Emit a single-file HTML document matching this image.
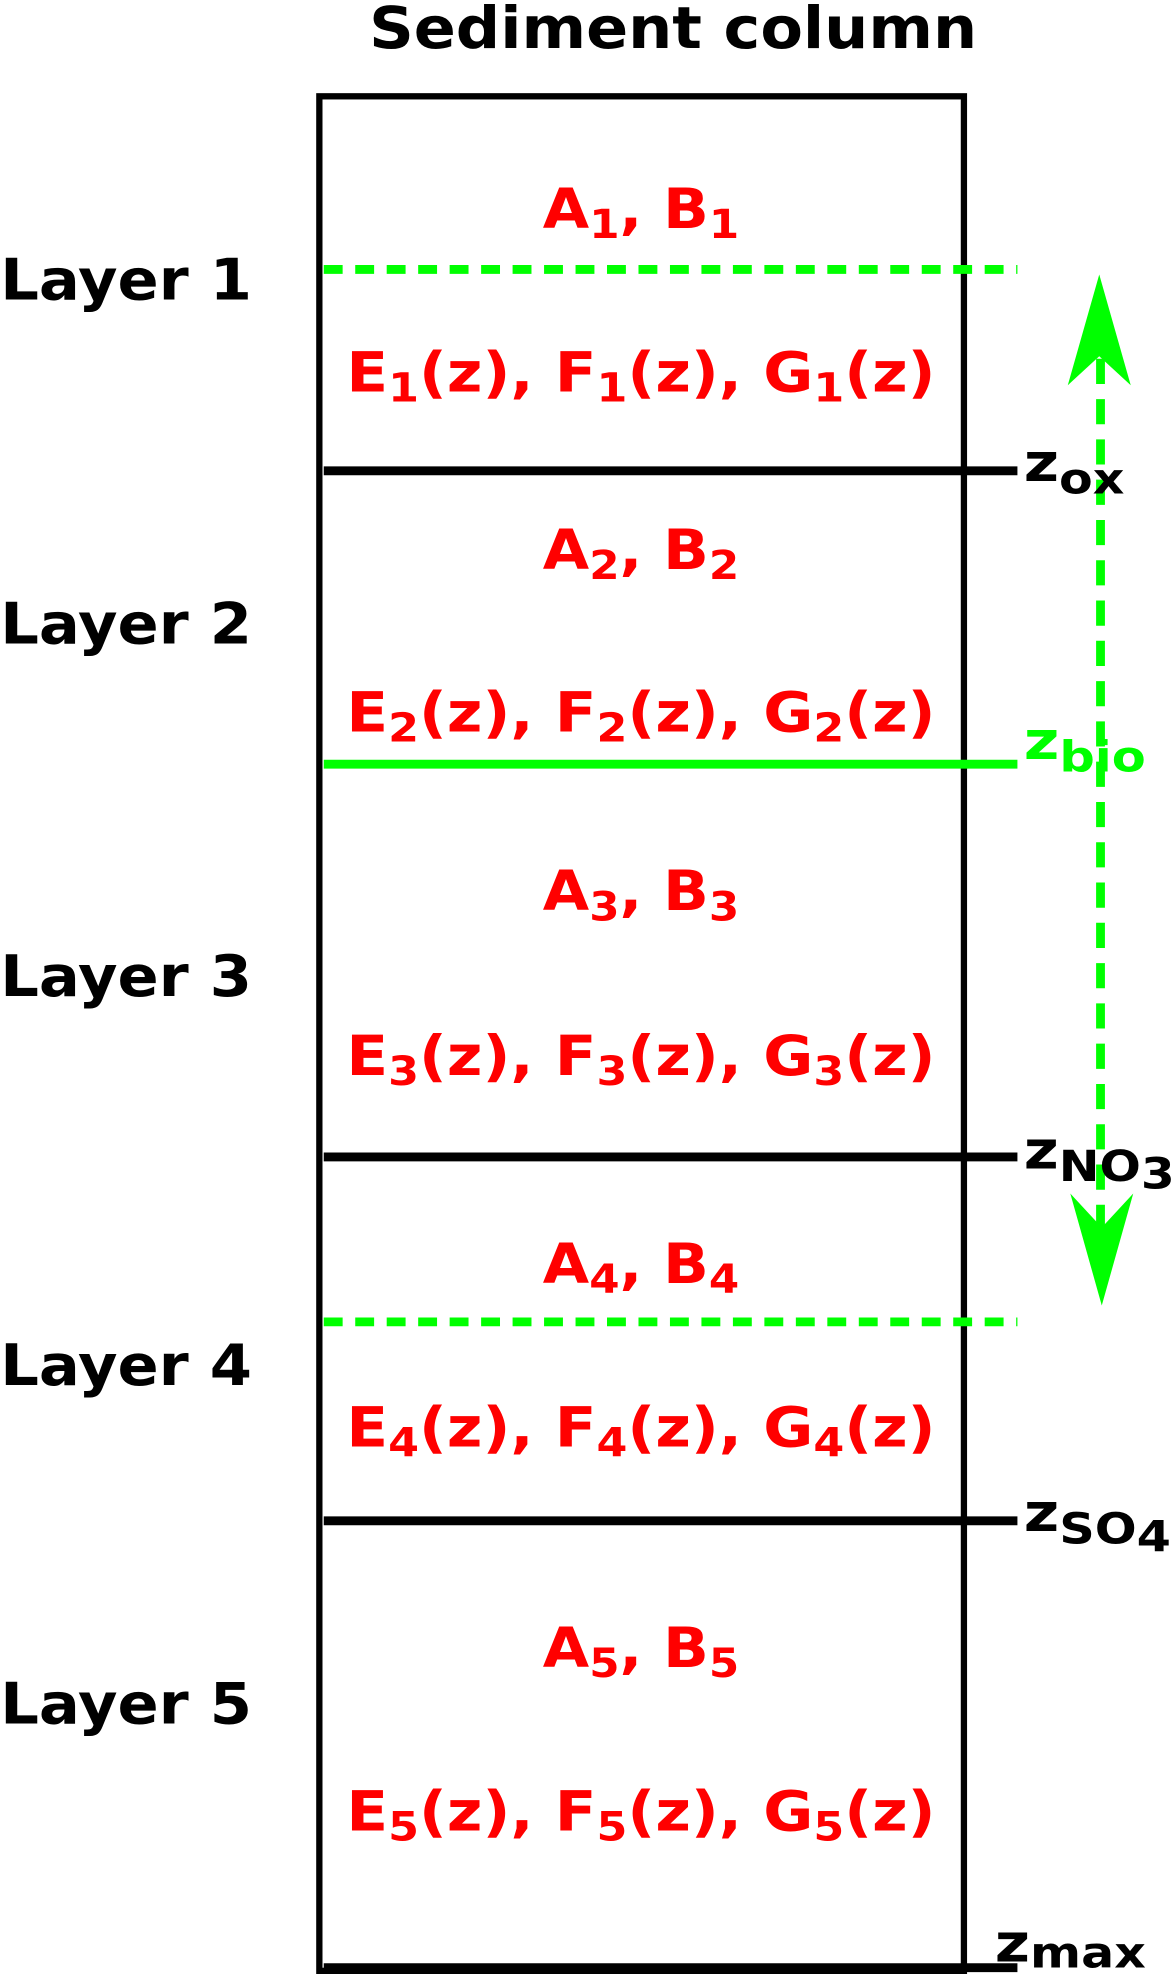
<!DOCTYPE html>
<html><head><meta charset="utf-8"><style>html,body{margin:0;padding:0;background:#fff}svg{display:block}</style></head>
<body>
<svg width="1175" height="1974" viewBox="0 0 933 1568" xmlns="http://www.w3.org/2000/svg" font-family="DejaVu Sans, Liberation Sans, sans-serif" font-weight="bold">
<text x="293" y="38" font-size="46" textLength="483" lengthAdjust="spacingAndGlyphs">Sediment column</text>
<rect x="253.5" y="76.5" width="512" height="1489" fill="none" stroke="#000" stroke-width="5"/>
<g stroke-width="7">
<line x1="257" y1="214" x2="808" y2="214" stroke="#00ff00" stroke-dasharray="15 10"/>
<line x1="257" y1="374" x2="808" y2="374" stroke="#000"/>
<line x1="257" y1="607" x2="808" y2="607" stroke="#00ff00"/>
<line x1="257" y1="919" x2="808" y2="919" stroke="#000"/>
<line x1="257" y1="1050" x2="808" y2="1050" stroke="#00ff00" stroke-dasharray="15 10"/>
<line x1="257" y1="1208" x2="808" y2="1208" stroke="#000"/>
<line x1="257" y1="1563" x2="808" y2="1563" stroke="#000"/>
<line x1="874" y1="285" x2="874" y2="975" stroke="#00ff00" stroke-dasharray="20 12"/>
</g>
<polygon points="873,218 898,306 873,283 848,306" fill="#00ff00"/>
<polygon points="875,1037 900,948 875,975 850,948" fill="#00ff00"/>
<g font-size="42">
<text x="813" y="382" textLength="80" lengthAdjust="spacingAndGlyphs">z<tspan font-size="34" dy="10">ox</tspan></text>
<text x="813" y="603" fill="#00ff00" textLength="97" lengthAdjust="spacingAndGlyphs">z<tspan font-size="34" dy="10">bio</tspan></text>
<text x="813" y="928" textLength="120" lengthAdjust="spacingAndGlyphs">z<tspan font-size="34" dy="10">NO</tspan><tspan font-size="34" dy="6">3</tspan></text>
<text x="813" y="1216" textLength="117" lengthAdjust="spacingAndGlyphs">z<tspan font-size="34" dy="10">SO</tspan><tspan font-size="34" dy="6">4</tspan></text>
<text x="790" y="1558" textLength="120" lengthAdjust="spacingAndGlyphs">z<tspan font-size="34" dy="5">max</tspan></text>
</g>
<g font-size="45">
<text x="0" y="238" textLength="200" lengthAdjust="spacingAndGlyphs">Layer 1</text>
<text x="0" y="511" textLength="200" lengthAdjust="spacingAndGlyphs">Layer 2</text>
<text x="0" y="791" textLength="200" lengthAdjust="spacingAndGlyphs">Layer 3</text>
<text x="0" y="1100" textLength="200" lengthAdjust="spacingAndGlyphs">Layer 4</text>
<text x="0" y="1369" textLength="200" lengthAdjust="spacingAndGlyphs">Layer 5</text>
</g>
<g font-size="44" fill="#ff0000">
<text x="431" y="181" textLength="156" lengthAdjust="spacingAndGlyphs">A<tspan font-size="32" dy="8">1</tspan><tspan dy="-8">, B</tspan><tspan font-size="32" dy="8">1</tspan></text>
<text x="275" y="311" textLength="468" lengthAdjust="spacingAndGlyphs">E<tspan font-size="32" dy="8">1</tspan><tspan dy="-8">(z), F</tspan><tspan font-size="32" dy="8">1</tspan><tspan dy="-8">(z), G</tspan><tspan font-size="32" dy="8">1</tspan><tspan dy="-8">(z)</tspan></text>
<text x="431" y="452" textLength="156" lengthAdjust="spacingAndGlyphs">A<tspan font-size="32" dy="8">2</tspan><tspan dy="-8">, B</tspan><tspan font-size="32" dy="8">2</tspan></text>
<text x="275" y="581" textLength="468" lengthAdjust="spacingAndGlyphs">E<tspan font-size="32" dy="8">2</tspan><tspan dy="-8">(z), F</tspan><tspan font-size="32" dy="8">2</tspan><tspan dy="-8">(z), G</tspan><tspan font-size="32" dy="8">2</tspan><tspan dy="-8">(z)</tspan></text>
<text x="431" y="723" textLength="156" lengthAdjust="spacingAndGlyphs">A<tspan font-size="32" dy="8">3</tspan><tspan dy="-8">, B</tspan><tspan font-size="32" dy="8">3</tspan></text>
<text x="275" y="854" textLength="468" lengthAdjust="spacingAndGlyphs">E<tspan font-size="32" dy="8">3</tspan><tspan dy="-8">(z), F</tspan><tspan font-size="32" dy="8">3</tspan><tspan dy="-8">(z), G</tspan><tspan font-size="32" dy="8">3</tspan><tspan dy="-8">(z)</tspan></text>
<text x="431" y="1019" textLength="156" lengthAdjust="spacingAndGlyphs">A<tspan font-size="32" dy="8">4</tspan><tspan dy="-8">, B</tspan><tspan font-size="32" dy="8">4</tspan></text>
<text x="275" y="1149" textLength="468" lengthAdjust="spacingAndGlyphs">E<tspan font-size="32" dy="8">4</tspan><tspan dy="-8">(z), F</tspan><tspan font-size="32" dy="8">4</tspan><tspan dy="-8">(z), G</tspan><tspan font-size="32" dy="8">4</tspan><tspan dy="-8">(z)</tspan></text>
<text x="431" y="1324" textLength="156" lengthAdjust="spacingAndGlyphs">A<tspan font-size="32" dy="8">5</tspan><tspan dy="-8">, B</tspan><tspan font-size="32" dy="8">5</tspan></text>
<text x="275" y="1454" textLength="468" lengthAdjust="spacingAndGlyphs">E<tspan font-size="32" dy="8">5</tspan><tspan dy="-8">(z), F</tspan><tspan font-size="32" dy="8">5</tspan><tspan dy="-8">(z), G</tspan><tspan font-size="32" dy="8">5</tspan><tspan dy="-8">(z)</tspan></text>
</g>
</svg>
</body></html>
